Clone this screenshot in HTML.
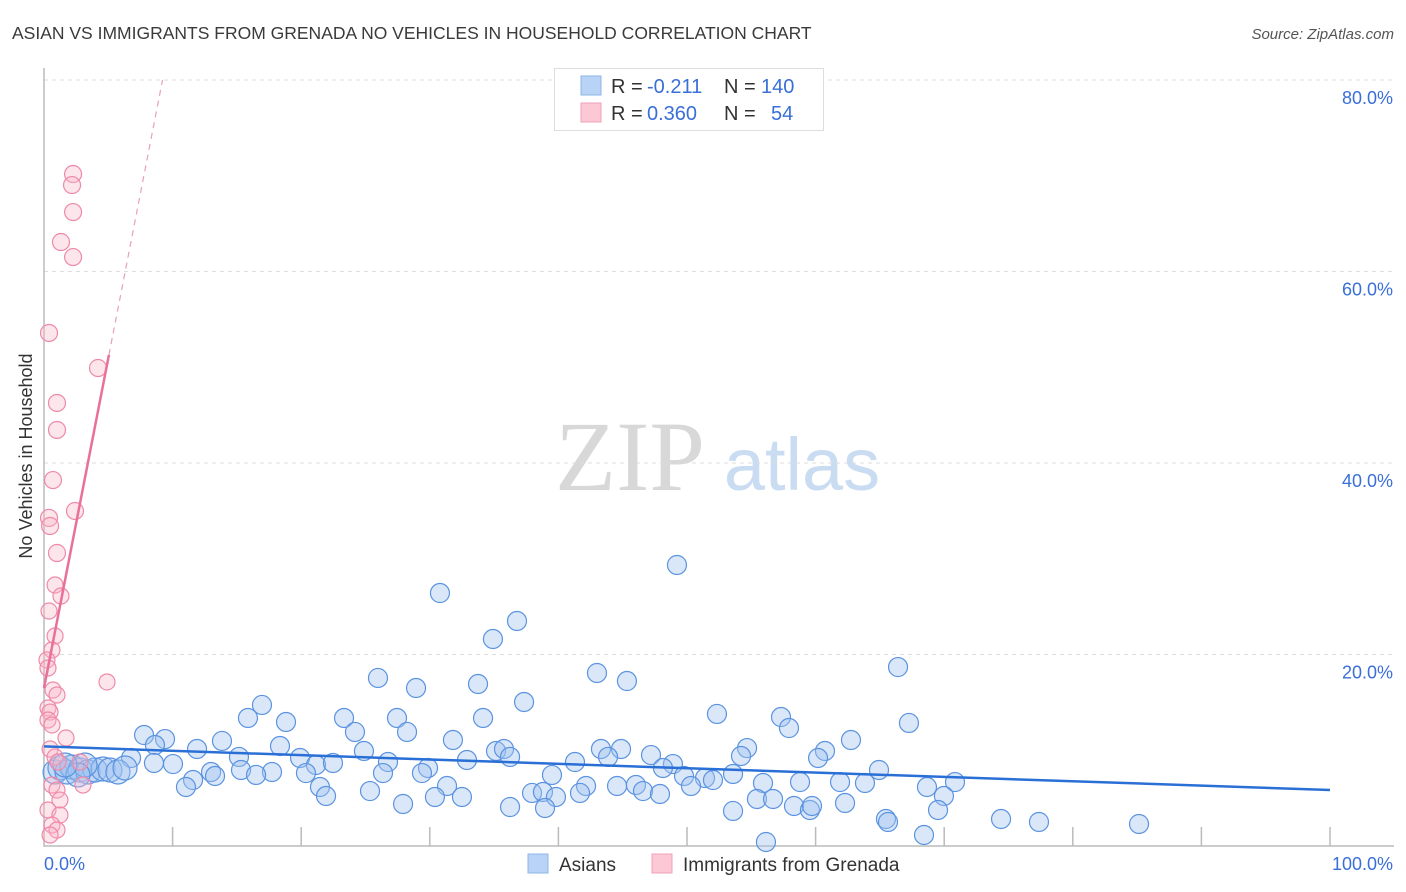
<!DOCTYPE html>
<html><head><meta charset="utf-8"><style>
body{margin:0;background:#fff;font-family:"Liberation Sans",sans-serif;}
#wrap{position:relative;width:1406px;height:892px;overflow:hidden;}
</style></head><body>
<div id="wrap">
<svg id="chart" width="1406" height="892" xmlns="http://www.w3.org/2000/svg">
<text x="12" y="39" font-size="17.5" fill="#3a3a3a">ASIAN VS IMMIGRANTS FROM GRENADA NO VEHICLES IN HOUSEHOLD CORRELATION CHART</text>
<text x="1394" y="39" font-size="15" fill="#555" font-style="italic" text-anchor="end">Source: ZipAtlas.com</text>
<text x="32" y="456" font-size="18" fill="#333" text-anchor="middle" transform="rotate(-90 32 456)">No Vehicles in Household</text>
<g>
<text x="630" y="490" font-size="100" fill="#d8d8d8" font-family="Liberation Serif,serif" text-anchor="middle">ZIP</text>
<text x="802" y="490" font-size="74" fill="#c9dcf2" text-anchor="middle">atlas</text>
</g>
<g id="grid"></g><g id="axes"></g><g id="pts"></g><g id="trend"></g>
<g>
<rect x="554.5" y="68.5" width="269" height="62" fill="#fff" stroke="#ddd"/>
<rect x="581" y="76" width="20" height="19" fill="#b8d3f5" stroke="#8fb4e8"/>
<rect x="581" y="103" width="20" height="19" fill="#fcc8d6" stroke="#f0a0b8"/>
<g font-size="20">
<text x="611" y="93" fill="#333">R =</text><text x="647" y="93" fill="#3a6fd8">-0.211</text>
<text x="724" y="93" fill="#333">N =</text><text x="761" y="93" fill="#3a6fd8">140</text>
<text x="611" y="120" fill="#333">R =</text><text x="647" y="120" fill="#3a6fd8">0.360</text>
<text x="724" y="120" fill="#333">N =</text><text x="771" y="120" fill="#3a6fd8">54</text>
</g>
</g>
<g>
<rect x="528" y="854" width="20" height="19" fill="#b8d3f5" stroke="#8fb4e8"/>
<text x="559" y="871" font-size="19" fill="#333">Asians</text>
<rect x="652" y="854" width="20" height="19" fill="#fcc8d6" stroke="#f0a0b8"/>
<text x="683" y="871" font-size="19" fill="#333">Immigrants from Grenada</text>
</g>
</svg>
</div>
<script>
const yTicks=[20,40,60,80];
const yTickLabels=["20.0%","40.0%","60.0%","80.0%"];
const xTickLabels=["0.0%","100.0%"];
const bluePx=[[677,565],[440,593],[517,621],[493,639],[378,678],[416,688],[478,684],[597,673],[627,681],[898,667],[262,705],[524,702],[248,718],[286,722],[344,718],[397,718],[483,718],[717,714],[781,717],[789,728],[909,723],[355,732],[407,732],[144,735],[165,739],[222,741],[453,740],[851,740],[197,749],[280,746],[364,751],[496,751],[504,749],[601,749],[621,749],[747,748],[825,751],[818,758],[155,745],[131,758],[173,764],[154,763],[239,757],[300,758],[316,765],[333,763],[388,762],[428,768],[467,760],[510,757],[575,762],[608,757],[651,755],[673,764],[741,756],[879,770],[211,772],[241,770],[272,772],[193,780],[215,776],[256,775],[306,773],[383,773],[422,773],[552,775],[663,768],[684,776],[705,778],[733,774],[800,782],[865,783],[927,787],[955,782],[186,787],[320,787],[447,786],[586,786],[617,786],[636,785],[691,786],[713,780],[763,783],[840,782],[326,796],[370,791],[403,804],[435,797],[462,797],[532,793],[543,792],[556,797],[580,793],[643,791],[660,794],[757,799],[773,799],[794,806],[810,810],[812,806],[845,803],[944,796],[510,807],[545,808],[733,811],[938,810],[886,819],[888,822],[1001,819],[1039,822],[1139,824],[924,835],[766,842],[55,772],[60,768],[67,772],[72,767],[80,770],[88,772],[95,770],[103,769],[110,770],[118,772],[125,768],[85,765],[78,775],[65,765]];
const pinkPx=[[49,333],[73,174],[72,185],[73,212],[61,242],[73,257],[98,368],[57,403],[57,430],[53,480],[75,511],[49,518],[50,526],[57,553],[55,585],[61,596],[49,611],[55,636],[52,650],[47,660],[48,668],[107,682],[53,690],[57,695],[48,708],[50,712],[48,720],[52,725],[66,738],[50,749],[55,757],[58,762],[80,762],[83,785],[52,785],[57,790],[60,800],[48,810],[60,815],[52,825],[57,830],[50,835]];
const blueX=bluePx.map(p=>+((p[0]-44)/12.86).toFixed(2));
const blueY=bluePx.map(p=>+((846-p[1])/9.575).toFixed(2));
const pinkX=pinkPx.map(p=>+((p[0]-44)/12.86).toFixed(2));
const pinkY=pinkPx.map(p=>+((846-p[1])/9.575).toFixed(2));
const blueTrend=[10.4,5.85];
const pinkTrend=[16.5,6.89];
const X0=44,X1=1330,Y0=846,YPER=9.575;
const sx=v=>X0+(X1-X0)*v/100;
const sy=v=>Y0-v*YPER;
const NS="http://www.w3.org/2000/svg";
function mk(tag,attrs,parent){const e=document.createElementNS(NS,tag);for(const k in attrs)e.setAttribute(k,attrs[k]);parent.appendChild(e);return e;}
const grid=document.getElementById('grid'),axes=document.getElementById('axes'),pts=document.getElementById('pts'),trend=document.getElementById('trend');
yTicks.forEach((t,i)=>{
 const l=mk('line',{x1:X0,x2:1394,y1:sy(t),y2:sy(t),stroke:'#ddd','stroke-dasharray':'4,4'},grid);
 
 
 const tx=mk('text',{x:1393,y:sy(t)+24,'font-size':18,fill:'#3a6fd8','text-anchor':'end'},axes);
 tx.textContent=yTickLabels[i];
 
 
});
const ax=mk('path',{d:`M${X0} 68V${Y0}H${X1+64}`,stroke:'#bbb',fill:'none','stroke-width':1.5},axes);


for(let i=1;i<=10;i++){
 const t=mk('line',{x1:sx(i*10),x2:sx(i*10),y1:Y0-19,y2:Y0,stroke:'#bbb','stroke-width':1.5},axes);
 
 
}
const xl0=mk('text',{x:44,y:870,'font-size':18,fill:'#3a6fd8'},axes);xl0.textContent=xTickLabels[0];


const xl1=mk('text',{x:1393,y:870,'font-size':18,fill:'#3a6fd8','text-anchor':'end'},axes);xl1.textContent=xTickLabels[1];


blueX.forEach((x,i)=>{
 const c=mk('circle',{cx:sx(x),cy:sy(blueY[i]),r:i>=blueX.length-14?12:9.5,fill:'rgba(160,196,240,0.4)',stroke:'#5b93e0','stroke-width':1.2},pts);
 
 
});
pinkX.forEach((x,i)=>{
 const c=mk('circle',{cx:sx(x),cy:sy(pinkY[i]),r:pinkY[i]>30?8.5:8,fill:'rgba(248,180,200,0.35)',stroke:'#ee8aa8','stroke-width':1.2},pts);
 
 
});
const bt=mk('line',{x1:sx(0),y1:sy(blueTrend[0]),x2:sx(100),y2:sy(blueTrend[1]),stroke:'#2a6fd6','stroke-width':2.5},trend);


const pEnd=5.05,pDash=(80-pinkTrend[0])/pinkTrend[1];
const pt=mk('line',{x1:sx(0),y1:sy(pinkTrend[0]),x2:sx(pEnd),y2:sy(pinkTrend[0]+pinkTrend[1]*pEnd),stroke:'#e8709a','stroke-width':2.5},trend);


const pd=mk('line',{x1:sx(pEnd),y1:sy(pinkTrend[0]+pinkTrend[1]*pEnd),x2:sx(pDash),y2:sy(80),stroke:'#e8a0b8','stroke-width':1.2,'stroke-dasharray':'6,5'},trend);


</script>
</body></html>
